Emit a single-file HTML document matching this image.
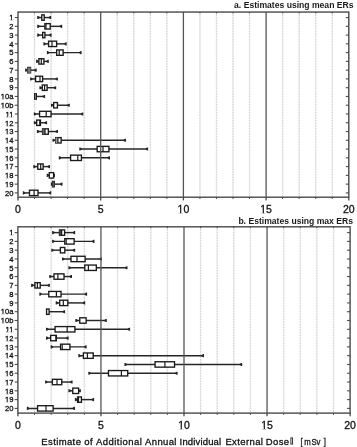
<!DOCTYPE html>
<html><head><meta charset="utf-8"><style>
html,body{margin:0;padding:0;background:#fff;}
body{width:357px;height:447px;overflow:hidden;}
.t{fill:#111;stroke:#111;stroke-width:0.3px;}
svg{display:block;font-family:"Liberation Sans",sans-serif;-webkit-font-smoothing:antialiased;will-change:transform;}
</style></head><body>
<svg width="357" height="447" viewBox="0 0 357 447">
<rect width="357" height="447" fill="#fff"/>
<line x1="34.54" y1="12.05" x2="34.54" y2="197.20" stroke="#f0f0f0" stroke-width="1.6"/>
<line x1="34.54" y1="12.05" x2="34.54" y2="197.20" stroke="#d0d0d0" stroke-width="1" stroke-dasharray="1.3 1.4"/>
<line x1="51.08" y1="12.05" x2="51.08" y2="197.20" stroke="#f0f0f0" stroke-width="1.6"/>
<line x1="51.08" y1="12.05" x2="51.08" y2="197.20" stroke="#d0d0d0" stroke-width="1" stroke-dasharray="1.3 1.4"/>
<line x1="67.62" y1="12.05" x2="67.62" y2="197.20" stroke="#f0f0f0" stroke-width="1.6"/>
<line x1="67.62" y1="12.05" x2="67.62" y2="197.20" stroke="#d0d0d0" stroke-width="1" stroke-dasharray="1.3 1.4"/>
<line x1="84.16" y1="12.05" x2="84.16" y2="197.20" stroke="#f0f0f0" stroke-width="1.6"/>
<line x1="84.16" y1="12.05" x2="84.16" y2="197.20" stroke="#d0d0d0" stroke-width="1" stroke-dasharray="1.3 1.4"/>
<line x1="117.24" y1="12.05" x2="117.24" y2="197.20" stroke="#f0f0f0" stroke-width="1.6"/>
<line x1="117.24" y1="12.05" x2="117.24" y2="197.20" stroke="#d0d0d0" stroke-width="1" stroke-dasharray="1.3 1.4"/>
<line x1="133.78" y1="12.05" x2="133.78" y2="197.20" stroke="#f0f0f0" stroke-width="1.6"/>
<line x1="133.78" y1="12.05" x2="133.78" y2="197.20" stroke="#d0d0d0" stroke-width="1" stroke-dasharray="1.3 1.4"/>
<line x1="150.32" y1="12.05" x2="150.32" y2="197.20" stroke="#f0f0f0" stroke-width="1.6"/>
<line x1="150.32" y1="12.05" x2="150.32" y2="197.20" stroke="#d0d0d0" stroke-width="1" stroke-dasharray="1.3 1.4"/>
<line x1="166.86" y1="12.05" x2="166.86" y2="197.20" stroke="#f0f0f0" stroke-width="1.6"/>
<line x1="166.86" y1="12.05" x2="166.86" y2="197.20" stroke="#d0d0d0" stroke-width="1" stroke-dasharray="1.3 1.4"/>
<line x1="199.94" y1="12.05" x2="199.94" y2="197.20" stroke="#f0f0f0" stroke-width="1.6"/>
<line x1="199.94" y1="12.05" x2="199.94" y2="197.20" stroke="#d0d0d0" stroke-width="1" stroke-dasharray="1.3 1.4"/>
<line x1="216.48" y1="12.05" x2="216.48" y2="197.20" stroke="#f0f0f0" stroke-width="1.6"/>
<line x1="216.48" y1="12.05" x2="216.48" y2="197.20" stroke="#d0d0d0" stroke-width="1" stroke-dasharray="1.3 1.4"/>
<line x1="233.02" y1="12.05" x2="233.02" y2="197.20" stroke="#f0f0f0" stroke-width="1.6"/>
<line x1="233.02" y1="12.05" x2="233.02" y2="197.20" stroke="#d0d0d0" stroke-width="1" stroke-dasharray="1.3 1.4"/>
<line x1="249.56" y1="12.05" x2="249.56" y2="197.20" stroke="#f0f0f0" stroke-width="1.6"/>
<line x1="249.56" y1="12.05" x2="249.56" y2="197.20" stroke="#d0d0d0" stroke-width="1" stroke-dasharray="1.3 1.4"/>
<line x1="282.64" y1="12.05" x2="282.64" y2="197.20" stroke="#f0f0f0" stroke-width="1.6"/>
<line x1="282.64" y1="12.05" x2="282.64" y2="197.20" stroke="#d0d0d0" stroke-width="1" stroke-dasharray="1.3 1.4"/>
<line x1="299.18" y1="12.05" x2="299.18" y2="197.20" stroke="#f0f0f0" stroke-width="1.6"/>
<line x1="299.18" y1="12.05" x2="299.18" y2="197.20" stroke="#d0d0d0" stroke-width="1" stroke-dasharray="1.3 1.4"/>
<line x1="315.72" y1="12.05" x2="315.72" y2="197.20" stroke="#f0f0f0" stroke-width="1.6"/>
<line x1="315.72" y1="12.05" x2="315.72" y2="197.20" stroke="#d0d0d0" stroke-width="1" stroke-dasharray="1.3 1.4"/>
<line x1="332.26" y1="12.05" x2="332.26" y2="197.20" stroke="#f0f0f0" stroke-width="1.6"/>
<line x1="332.26" y1="12.05" x2="332.26" y2="197.20" stroke="#d0d0d0" stroke-width="1" stroke-dasharray="1.3 1.4"/>
<line x1="38.20" y1="17.56" x2="50.20" y2="17.56" stroke="#262626" stroke-width="1.45"/>
<path d="M37.20,16.01 L38.10,16.01 L39.50,16.84 L39.50,18.28 L38.10,19.11 L37.20,19.11 Z" fill="#262626"/>
<path d="M51.20,16.01 L50.30,16.01 L48.90,16.84 L48.90,18.28 L50.30,19.11 L51.20,19.11 Z" fill="#262626"/>
<rect x="41.77" y="14.86" width="2.45" height="5.40" fill="#fff" stroke="#1a1a1a" stroke-width="1.35"/>
<line x1="38.20" y1="26.33" x2="61.20" y2="26.33" stroke="#262626" stroke-width="1.45"/>
<path d="M37.20,24.78 L38.10,24.78 L39.50,25.61 L39.50,27.05 L38.10,27.88 L37.20,27.88 Z" fill="#262626"/>
<path d="M62.20,24.78 L61.30,24.78 L59.90,25.61 L59.90,27.05 L61.30,27.88 L62.20,27.88 Z" fill="#262626"/>
<rect x="44.88" y="23.63" width="5.35" height="5.40" fill="#fff" stroke="#1a1a1a" stroke-width="1.35"/>
<line x1="46.00" y1="23.63" x2="46.00" y2="29.03" stroke="#1a1a1a" stroke-width="1.2"/>
<line x1="38.20" y1="35.09" x2="50.60" y2="35.09" stroke="#262626" stroke-width="1.45"/>
<path d="M37.20,33.54 L38.10,33.54 L39.50,34.37 L39.50,35.81 L38.10,36.64 L37.20,36.64 Z" fill="#262626"/>
<path d="M51.60,33.54 L50.70,33.54 L49.30,34.37 L49.30,35.81 L50.70,36.64 L51.60,36.64 Z" fill="#262626"/>
<rect x="42.67" y="32.39" width="2.25" height="5.40" fill="#fff" stroke="#1a1a1a" stroke-width="1.35"/>
<line x1="44.40" y1="43.86" x2="65.70" y2="43.86" stroke="#262626" stroke-width="1.45"/>
<path d="M43.40,42.31 L44.30,42.31 L45.70,43.14 L45.70,44.58 L44.30,45.41 L43.40,45.41 Z" fill="#262626"/>
<path d="M66.70,42.31 L65.80,42.31 L64.40,43.14 L64.40,44.58 L65.80,45.41 L66.70,45.41 Z" fill="#262626"/>
<rect x="48.57" y="41.16" width="8.05" height="5.40" fill="#fff" stroke="#1a1a1a" stroke-width="1.35"/>
<line x1="52.00" y1="41.16" x2="52.00" y2="46.56" stroke="#1a1a1a" stroke-width="1.2"/>
<line x1="47.90" y1="52.63" x2="80.60" y2="52.63" stroke="#262626" stroke-width="1.45"/>
<path d="M46.90,51.08 L47.80,51.08 L49.20,51.91 L49.20,53.35 L47.80,54.18 L46.90,54.18 Z" fill="#262626"/>
<path d="M81.60,51.08 L80.70,51.08 L79.30,51.91 L79.30,53.35 L80.70,54.18 L81.60,54.18 Z" fill="#262626"/>
<rect x="56.67" y="49.93" width="6.45" height="5.40" fill="#fff" stroke="#1a1a1a" stroke-width="1.35"/>
<line x1="59.20" y1="49.93" x2="59.20" y2="55.33" stroke="#1a1a1a" stroke-width="1.2"/>
<line x1="37.10" y1="61.39" x2="47.80" y2="61.39" stroke="#262626" stroke-width="1.45"/>
<path d="M36.10,59.84 L37.00,59.84 L38.40,60.67 L38.40,62.11 L37.00,62.94 L36.10,62.94 Z" fill="#262626"/>
<path d="M48.80,59.84 L47.90,59.84 L46.50,60.67 L46.50,62.11 L47.90,62.94 L48.80,62.94 Z" fill="#262626"/>
<rect x="38.88" y="58.69" width="5.05" height="5.40" fill="#fff" stroke="#1a1a1a" stroke-width="1.35"/>
<line x1="41.30" y1="58.69" x2="41.30" y2="64.09" stroke="#1a1a1a" stroke-width="1.2"/>
<line x1="26.10" y1="70.16" x2="35.70" y2="70.16" stroke="#262626" stroke-width="1.45"/>
<path d="M25.10,68.61 L26.00,68.61 L27.40,69.44 L27.40,70.88 L26.00,71.71 L25.10,71.71 Z" fill="#262626"/>
<path d="M36.70,68.61 L35.80,68.61 L34.40,69.44 L34.40,70.88 L35.80,71.71 L36.70,71.71 Z" fill="#262626"/>
<rect x="27.68" y="67.46" width="2.85" height="5.40" fill="#fff" stroke="#1a1a1a" stroke-width="1.35"/>
<rect x="27.50" y="67.46" width="3.20" height="5.40" fill="#777"/>
<line x1="31.10" y1="78.93" x2="56.90" y2="78.93" stroke="#262626" stroke-width="1.45"/>
<path d="M30.10,77.38 L31.00,77.38 L32.40,78.21 L32.40,79.65 L31.00,80.48 L30.10,80.48 Z" fill="#262626"/>
<path d="M57.90,77.38 L57.00,77.38 L55.60,78.21 L55.60,79.65 L57.00,80.48 L57.90,80.48 Z" fill="#262626"/>
<rect x="35.57" y="76.23" width="7.05" height="5.40" fill="#fff" stroke="#1a1a1a" stroke-width="1.35"/>
<line x1="40.00" y1="76.23" x2="40.00" y2="81.63" stroke="#1a1a1a" stroke-width="1.2"/>
<line x1="40.40" y1="87.70" x2="55.20" y2="87.70" stroke="#262626" stroke-width="1.45"/>
<path d="M39.40,86.15 L40.30,86.15 L41.70,86.98 L41.70,88.42 L40.30,89.25 L39.40,89.25 Z" fill="#262626"/>
<path d="M56.20,86.15 L55.30,86.15 L53.90,86.98 L53.90,88.42 L55.30,89.25 L56.20,89.25 Z" fill="#262626"/>
<rect x="42.27" y="85.00" width="4.85" height="5.40" fill="#fff" stroke="#1a1a1a" stroke-width="1.35"/>
<line x1="44.60" y1="85.00" x2="44.60" y2="90.40" stroke="#1a1a1a" stroke-width="1.2"/>
<line x1="35.00" y1="96.46" x2="44.10" y2="96.46" stroke="#262626" stroke-width="1.45"/>
<path d="M45.10,94.91 L44.20,94.91 L42.80,95.74 L42.80,97.18 L44.20,98.01 L45.10,98.01 Z" fill="#262626"/>
<rect x="34.67" y="93.76" width="1.65" height="5.40" fill="#fff" stroke="#1a1a1a" stroke-width="1.35"/>
<line x1="52.00" y1="105.23" x2="68.80" y2="105.23" stroke="#262626" stroke-width="1.45"/>
<path d="M51.00,103.68 L51.90,103.68 L53.30,104.51 L53.30,105.95 L51.90,106.78 L51.00,106.78 Z" fill="#262626"/>
<path d="M69.80,103.68 L68.90,103.68 L67.50,104.51 L67.50,105.95 L68.90,106.78 L69.80,106.78 Z" fill="#262626"/>
<rect x="53.67" y="102.53" width="3.75" height="5.40" fill="#fff" stroke="#1a1a1a" stroke-width="1.35"/>
<line x1="34.80" y1="114.00" x2="82.30" y2="114.00" stroke="#262626" stroke-width="1.45"/>
<path d="M33.80,112.45 L34.70,112.45 L36.10,113.28 L36.10,114.72 L34.70,115.55 L33.80,115.55 Z" fill="#262626"/>
<path d="M83.30,112.45 L82.40,112.45 L81.00,113.28 L81.00,114.72 L82.40,115.55 L83.30,115.55 Z" fill="#262626"/>
<rect x="39.57" y="111.30" width="11.45" height="5.40" fill="#fff" stroke="#1a1a1a" stroke-width="1.35"/>
<line x1="46.20" y1="111.30" x2="46.20" y2="116.70" stroke="#1a1a1a" stroke-width="1.2"/>
<line x1="34.80" y1="122.76" x2="46.10" y2="122.76" stroke="#262626" stroke-width="1.45"/>
<path d="M33.80,121.21 L34.70,121.21 L36.10,122.04 L36.10,123.48 L34.70,124.31 L33.80,124.31 Z" fill="#262626"/>
<path d="M47.10,121.21 L46.20,121.21 L44.80,122.04 L44.80,123.48 L46.20,124.31 L47.10,124.31 Z" fill="#262626"/>
<rect x="36.67" y="120.06" width="3.75" height="5.40" fill="#fff" stroke="#1a1a1a" stroke-width="1.35"/>
<line x1="39.80" y1="120.06" x2="39.80" y2="125.46" stroke="#1a1a1a" stroke-width="1.2"/>
<line x1="37.90" y1="131.53" x2="57.00" y2="131.53" stroke="#262626" stroke-width="1.45"/>
<path d="M36.90,129.98 L37.80,129.98 L39.20,130.81 L39.20,132.25 L37.80,133.08 L36.90,133.08 Z" fill="#262626"/>
<path d="M58.00,129.98 L57.10,129.98 L55.70,130.81 L55.70,132.25 L57.10,133.08 L58.00,133.08 Z" fill="#262626"/>
<rect x="42.57" y="128.83" width="5.75" height="5.40" fill="#fff" stroke="#1a1a1a" stroke-width="1.35"/>
<rect x="42.50" y="128.83" width="2.50" height="5.40" fill="#666"/>
<line x1="45.00" y1="128.83" x2="45.00" y2="134.23" stroke="#1a1a1a" stroke-width="1.2"/>
<line x1="53.50" y1="140.30" x2="125.00" y2="140.30" stroke="#262626" stroke-width="1.45"/>
<path d="M52.50,138.75 L53.40,138.75 L54.80,139.58 L54.80,141.02 L53.40,141.85 L52.50,141.85 Z" fill="#262626"/>
<path d="M126.00,138.75 L125.10,138.75 L123.70,139.58 L123.70,141.02 L125.10,141.85 L126.00,141.85 Z" fill="#262626"/>
<rect x="55.67" y="137.60" width="5.45" height="5.40" fill="#fff" stroke="#1a1a1a" stroke-width="1.35"/>
<rect x="55.60" y="137.60" width="2.30" height="5.40" fill="#999"/>
<line x1="57.90" y1="137.60" x2="57.90" y2="143.00" stroke="#1a1a1a" stroke-width="1.2"/>
<line x1="80.30" y1="149.06" x2="147.10" y2="149.06" stroke="#262626" stroke-width="1.45"/>
<path d="M79.30,147.51 L80.20,147.51 L81.60,148.34 L81.60,149.78 L80.20,150.62 L79.30,150.62 Z" fill="#262626"/>
<path d="M148.10,147.51 L147.20,147.51 L145.80,148.34 L145.80,149.78 L147.20,150.62 L148.10,150.62 Z" fill="#262626"/>
<rect x="97.17" y="146.37" width="11.75" height="5.40" fill="#fff" stroke="#1a1a1a" stroke-width="1.35"/>
<line x1="103.00" y1="146.37" x2="103.00" y2="151.76" stroke="#1a1a1a" stroke-width="1.2"/>
<line x1="59.80" y1="157.83" x2="109.00" y2="157.83" stroke="#262626" stroke-width="1.45"/>
<path d="M58.80,156.28 L59.70,156.28 L61.10,157.11 L61.10,158.55 L59.70,159.38 L58.80,159.38 Z" fill="#262626"/>
<path d="M110.00,156.28 L109.10,156.28 L107.70,157.11 L107.70,158.55 L109.10,159.38 L110.00,159.38 Z" fill="#262626"/>
<rect x="70.58" y="155.13" width="10.85" height="5.40" fill="#fff" stroke="#1a1a1a" stroke-width="1.35"/>
<line x1="77.80" y1="155.13" x2="77.80" y2="160.53" stroke="#1a1a1a" stroke-width="1.2"/>
<line x1="34.30" y1="166.60" x2="49.00" y2="166.60" stroke="#262626" stroke-width="1.45"/>
<path d="M33.30,165.05 L34.20,165.05 L35.60,165.88 L35.60,167.32 L34.20,168.15 L33.30,168.15 Z" fill="#262626"/>
<path d="M50.00,165.05 L49.10,165.05 L47.70,165.88 L47.70,167.32 L49.10,168.15 L50.00,168.15 Z" fill="#262626"/>
<rect x="37.77" y="163.90" width="5.35" height="5.40" fill="#fff" stroke="#1a1a1a" stroke-width="1.35"/>
<line x1="40.70" y1="163.90" x2="40.70" y2="169.30" stroke="#1a1a1a" stroke-width="1.2"/>
<line x1="47.70" y1="175.37" x2="54.00" y2="175.37" stroke="#262626" stroke-width="1.45"/>
<path d="M46.70,173.82 L47.60,173.82 L49.00,174.65 L49.00,176.09 L47.60,176.92 L46.70,176.92 Z" fill="#262626"/>
<path d="M55.00,173.82 L54.10,173.82 L52.70,174.65 L52.70,176.09 L54.10,176.92 L55.00,176.92 Z" fill="#262626"/>
<rect x="49.27" y="172.67" width="4.35" height="5.40" fill="#fff" stroke="#1a1a1a" stroke-width="1.35"/>
<line x1="51.90" y1="184.13" x2="61.50" y2="184.13" stroke="#262626" stroke-width="1.45"/>
<path d="M50.90,182.58 L51.80,182.58 L53.20,183.41 L53.20,184.85 L51.80,185.68 L50.90,185.68 Z" fill="#262626"/>
<path d="M62.50,182.58 L61.60,182.58 L60.20,183.41 L60.20,184.85 L61.60,185.68 L62.50,185.68 Z" fill="#262626"/>
<rect x="52.57" y="181.43" width="1.75" height="5.40" fill="#fff" stroke="#1a1a1a" stroke-width="1.35"/>
<rect x="52.50" y="181.43" width="1.90" height="5.40" fill="#555"/>
<line x1="23.80" y1="192.90" x2="50.20" y2="192.90" stroke="#262626" stroke-width="1.45"/>
<path d="M22.80,191.35 L23.70,191.35 L25.10,192.18 L25.10,193.62 L23.70,194.45 L22.80,194.45 Z" fill="#262626"/>
<path d="M51.20,191.35 L50.30,191.35 L48.90,192.18 L48.90,193.62 L50.30,194.45 L51.20,194.45 Z" fill="#262626"/>
<rect x="29.48" y="190.20" width="8.55" height="5.40" fill="#fff" stroke="#1a1a1a" stroke-width="1.35"/>
<line x1="34.10" y1="190.20" x2="34.10" y2="195.60" stroke="#1a1a1a" stroke-width="1.2"/>
<line x1="100.70" y1="12.05" x2="100.70" y2="197.20" stroke="#555" stroke-width="1.3"/>
<line x1="183.40" y1="12.05" x2="183.40" y2="197.20" stroke="#555" stroke-width="1.3"/>
<line x1="266.10" y1="12.05" x2="266.10" y2="197.20" stroke="#555" stroke-width="1.3"/>
<rect x="18.00" y="12.05" width="330.80" height="185.15" fill="none" stroke="#4a4a4a" stroke-width="1.4"/>
<line x1="14.80" y1="17.56" x2="18.00" y2="17.56" stroke="#4a4a4a" stroke-width="1.1"/>
<line x1="345.80" y1="17.56" x2="348.80" y2="17.56" stroke="#4a4a4a" stroke-width="1.1"/>
<text x="13.4" y="20" text-anchor="end" font-size="7.6" class="t">1</text>
<rect x="9.17" y="19.08" width="1.71" height="1.52" fill="#fff"/>
<rect x="11.96" y="19.08" width="1.44" height="1.52" fill="#fff"/>
<line x1="14.80" y1="26.33" x2="18.00" y2="26.33" stroke="#4a4a4a" stroke-width="1.1"/>
<line x1="345.80" y1="26.33" x2="348.80" y2="26.33" stroke="#4a4a4a" stroke-width="1.1"/>
<text x="13.4" y="29" text-anchor="end" font-size="7.6" class="t">2</text>
<line x1="14.80" y1="35.09" x2="18.00" y2="35.09" stroke="#4a4a4a" stroke-width="1.1"/>
<line x1="345.80" y1="35.09" x2="348.80" y2="35.09" stroke="#4a4a4a" stroke-width="1.1"/>
<text x="13.4" y="38" text-anchor="end" font-size="7.6" class="t">3</text>
<line x1="14.80" y1="43.86" x2="18.00" y2="43.86" stroke="#4a4a4a" stroke-width="1.1"/>
<line x1="345.80" y1="43.86" x2="348.80" y2="43.86" stroke="#4a4a4a" stroke-width="1.1"/>
<text x="13.4" y="47" text-anchor="end" font-size="7.6" class="t">4</text>
<line x1="14.80" y1="52.63" x2="18.00" y2="52.63" stroke="#4a4a4a" stroke-width="1.1"/>
<line x1="345.80" y1="52.63" x2="348.80" y2="52.63" stroke="#4a4a4a" stroke-width="1.1"/>
<text x="13.4" y="55" text-anchor="end" font-size="7.6" class="t">5</text>
<line x1="14.80" y1="61.39" x2="18.00" y2="61.39" stroke="#4a4a4a" stroke-width="1.1"/>
<line x1="345.80" y1="61.39" x2="348.80" y2="61.39" stroke="#4a4a4a" stroke-width="1.1"/>
<text x="13.4" y="64" text-anchor="end" font-size="7.6" class="t">6</text>
<line x1="14.80" y1="70.16" x2="18.00" y2="70.16" stroke="#4a4a4a" stroke-width="1.1"/>
<line x1="345.80" y1="70.16" x2="348.80" y2="70.16" stroke="#4a4a4a" stroke-width="1.1"/>
<text x="13.4" y="73" text-anchor="end" font-size="7.6" class="t">7</text>
<line x1="14.80" y1="78.93" x2="18.00" y2="78.93" stroke="#4a4a4a" stroke-width="1.1"/>
<line x1="345.80" y1="78.93" x2="348.80" y2="78.93" stroke="#4a4a4a" stroke-width="1.1"/>
<text x="13.4" y="82" text-anchor="end" font-size="7.6" class="t">8</text>
<line x1="14.80" y1="87.70" x2="18.00" y2="87.70" stroke="#4a4a4a" stroke-width="1.1"/>
<line x1="345.80" y1="87.70" x2="348.80" y2="87.70" stroke="#4a4a4a" stroke-width="1.1"/>
<text x="13.4" y="90" text-anchor="end" font-size="7.6" class="t">9</text>
<line x1="14.80" y1="96.46" x2="18.00" y2="96.46" stroke="#4a4a4a" stroke-width="1.1"/>
<line x1="345.80" y1="96.46" x2="348.80" y2="96.46" stroke="#4a4a4a" stroke-width="1.1"/>
<text x="13.4" y="99" text-anchor="end" font-size="7.6" class="t">10a</text>
<rect x="0.72" y="98.08" width="1.71" height="1.52" fill="#fff"/>
<rect x="3.50" y="98.08" width="1.44" height="1.52" fill="#fff"/>
<line x1="14.80" y1="105.23" x2="18.00" y2="105.23" stroke="#4a4a4a" stroke-width="1.1"/>
<line x1="345.80" y1="105.23" x2="348.80" y2="105.23" stroke="#4a4a4a" stroke-width="1.1"/>
<text x="13.4" y="108" text-anchor="end" font-size="7.6" class="t">10b</text>
<rect x="0.72" y="107.08" width="1.71" height="1.52" fill="#fff"/>
<rect x="3.50" y="107.08" width="1.44" height="1.52" fill="#fff"/>
<line x1="14.80" y1="114.00" x2="18.00" y2="114.00" stroke="#4a4a4a" stroke-width="1.1"/>
<line x1="345.80" y1="114.00" x2="348.80" y2="114.00" stroke="#4a4a4a" stroke-width="1.1"/>
<text x="13.4" y="117" text-anchor="end" font-size="7.6" class="t">11</text>
<rect x="4.95" y="116.08" width="1.71" height="1.52" fill="#fff"/>
<rect x="7.73" y="116.08" width="1.44" height="1.52" fill="#fff"/>
<rect x="9.17" y="116.08" width="1.71" height="1.52" fill="#fff"/>
<rect x="11.96" y="116.08" width="1.44" height="1.52" fill="#fff"/>
<line x1="14.80" y1="122.76" x2="18.00" y2="122.76" stroke="#4a4a4a" stroke-width="1.1"/>
<line x1="345.80" y1="122.76" x2="348.80" y2="122.76" stroke="#4a4a4a" stroke-width="1.1"/>
<text x="13.4" y="126" text-anchor="end" font-size="7.6" class="t">12</text>
<rect x="4.95" y="125.08" width="1.71" height="1.52" fill="#fff"/>
<rect x="7.73" y="125.08" width="1.44" height="1.52" fill="#fff"/>
<line x1="14.80" y1="131.53" x2="18.00" y2="131.53" stroke="#4a4a4a" stroke-width="1.1"/>
<line x1="345.80" y1="131.53" x2="348.80" y2="131.53" stroke="#4a4a4a" stroke-width="1.1"/>
<text x="13.4" y="134" text-anchor="end" font-size="7.6" class="t">13</text>
<rect x="4.95" y="133.08" width="1.71" height="1.52" fill="#fff"/>
<rect x="7.73" y="133.08" width="1.44" height="1.52" fill="#fff"/>
<line x1="14.80" y1="140.30" x2="18.00" y2="140.30" stroke="#4a4a4a" stroke-width="1.1"/>
<line x1="345.80" y1="140.30" x2="348.80" y2="140.30" stroke="#4a4a4a" stroke-width="1.1"/>
<text x="13.4" y="143" text-anchor="end" font-size="7.6" class="t">14</text>
<rect x="4.95" y="142.08" width="1.71" height="1.52" fill="#fff"/>
<rect x="7.73" y="142.08" width="1.44" height="1.52" fill="#fff"/>
<line x1="14.80" y1="149.06" x2="18.00" y2="149.06" stroke="#4a4a4a" stroke-width="1.1"/>
<line x1="345.80" y1="149.06" x2="348.80" y2="149.06" stroke="#4a4a4a" stroke-width="1.1"/>
<text x="13.4" y="152" text-anchor="end" font-size="7.6" class="t">15</text>
<rect x="4.95" y="151.08" width="1.71" height="1.52" fill="#fff"/>
<rect x="7.73" y="151.08" width="1.44" height="1.52" fill="#fff"/>
<line x1="14.80" y1="157.83" x2="18.00" y2="157.83" stroke="#4a4a4a" stroke-width="1.1"/>
<line x1="345.80" y1="157.83" x2="348.80" y2="157.83" stroke="#4a4a4a" stroke-width="1.1"/>
<text x="13.4" y="161" text-anchor="end" font-size="7.6" class="t">16</text>
<rect x="4.95" y="160.08" width="1.71" height="1.52" fill="#fff"/>
<rect x="7.73" y="160.08" width="1.44" height="1.52" fill="#fff"/>
<line x1="14.80" y1="166.60" x2="18.00" y2="166.60" stroke="#4a4a4a" stroke-width="1.1"/>
<line x1="345.80" y1="166.60" x2="348.80" y2="166.60" stroke="#4a4a4a" stroke-width="1.1"/>
<text x="13.4" y="169" text-anchor="end" font-size="7.6" class="t">17</text>
<rect x="4.95" y="168.08" width="1.71" height="1.52" fill="#fff"/>
<rect x="7.73" y="168.08" width="1.44" height="1.52" fill="#fff"/>
<line x1="14.80" y1="175.37" x2="18.00" y2="175.37" stroke="#4a4a4a" stroke-width="1.1"/>
<line x1="345.80" y1="175.37" x2="348.80" y2="175.37" stroke="#4a4a4a" stroke-width="1.1"/>
<text x="13.4" y="178" text-anchor="end" font-size="7.6" class="t">18</text>
<rect x="4.95" y="177.08" width="1.71" height="1.52" fill="#fff"/>
<rect x="7.73" y="177.08" width="1.44" height="1.52" fill="#fff"/>
<line x1="14.80" y1="184.13" x2="18.00" y2="184.13" stroke="#4a4a4a" stroke-width="1.1"/>
<line x1="345.80" y1="184.13" x2="348.80" y2="184.13" stroke="#4a4a4a" stroke-width="1.1"/>
<text x="13.4" y="187" text-anchor="end" font-size="7.6" class="t">19</text>
<rect x="4.95" y="186.08" width="1.71" height="1.52" fill="#fff"/>
<rect x="7.73" y="186.08" width="1.44" height="1.52" fill="#fff"/>
<line x1="14.80" y1="192.90" x2="18.00" y2="192.90" stroke="#4a4a4a" stroke-width="1.1"/>
<line x1="345.80" y1="192.90" x2="348.80" y2="192.90" stroke="#4a4a4a" stroke-width="1.1"/>
<text x="13.4" y="196" text-anchor="end" font-size="7.6" class="t">20</text>
<line x1="18.00" y1="197.20" x2="18.00" y2="200.40" stroke="#4a4a4a" stroke-width="1.3"/>
<line x1="34.54" y1="197.20" x2="34.54" y2="199.00" stroke="#4a4a4a" stroke-width="1"/>
<line x1="34.54" y1="12.05" x2="34.54" y2="13.45" stroke="#4a4a4a" stroke-width="1"/>
<line x1="51.08" y1="197.20" x2="51.08" y2="199.00" stroke="#4a4a4a" stroke-width="1"/>
<line x1="51.08" y1="12.05" x2="51.08" y2="13.45" stroke="#4a4a4a" stroke-width="1"/>
<line x1="67.62" y1="197.20" x2="67.62" y2="199.00" stroke="#4a4a4a" stroke-width="1"/>
<line x1="67.62" y1="12.05" x2="67.62" y2="13.45" stroke="#4a4a4a" stroke-width="1"/>
<line x1="84.16" y1="197.20" x2="84.16" y2="199.00" stroke="#4a4a4a" stroke-width="1"/>
<line x1="84.16" y1="12.05" x2="84.16" y2="13.45" stroke="#4a4a4a" stroke-width="1"/>
<line x1="100.70" y1="197.20" x2="100.70" y2="200.40" stroke="#4a4a4a" stroke-width="1.3"/>
<line x1="117.24" y1="197.20" x2="117.24" y2="199.00" stroke="#4a4a4a" stroke-width="1"/>
<line x1="117.24" y1="12.05" x2="117.24" y2="13.45" stroke="#4a4a4a" stroke-width="1"/>
<line x1="133.78" y1="197.20" x2="133.78" y2="199.00" stroke="#4a4a4a" stroke-width="1"/>
<line x1="133.78" y1="12.05" x2="133.78" y2="13.45" stroke="#4a4a4a" stroke-width="1"/>
<line x1="150.32" y1="197.20" x2="150.32" y2="199.00" stroke="#4a4a4a" stroke-width="1"/>
<line x1="150.32" y1="12.05" x2="150.32" y2="13.45" stroke="#4a4a4a" stroke-width="1"/>
<line x1="166.86" y1="197.20" x2="166.86" y2="199.00" stroke="#4a4a4a" stroke-width="1"/>
<line x1="166.86" y1="12.05" x2="166.86" y2="13.45" stroke="#4a4a4a" stroke-width="1"/>
<line x1="183.40" y1="197.20" x2="183.40" y2="200.40" stroke="#4a4a4a" stroke-width="1.3"/>
<line x1="199.94" y1="197.20" x2="199.94" y2="199.00" stroke="#4a4a4a" stroke-width="1"/>
<line x1="199.94" y1="12.05" x2="199.94" y2="13.45" stroke="#4a4a4a" stroke-width="1"/>
<line x1="216.48" y1="197.20" x2="216.48" y2="199.00" stroke="#4a4a4a" stroke-width="1"/>
<line x1="216.48" y1="12.05" x2="216.48" y2="13.45" stroke="#4a4a4a" stroke-width="1"/>
<line x1="233.02" y1="197.20" x2="233.02" y2="199.00" stroke="#4a4a4a" stroke-width="1"/>
<line x1="233.02" y1="12.05" x2="233.02" y2="13.45" stroke="#4a4a4a" stroke-width="1"/>
<line x1="249.56" y1="197.20" x2="249.56" y2="199.00" stroke="#4a4a4a" stroke-width="1"/>
<line x1="249.56" y1="12.05" x2="249.56" y2="13.45" stroke="#4a4a4a" stroke-width="1"/>
<line x1="266.10" y1="197.20" x2="266.10" y2="200.40" stroke="#4a4a4a" stroke-width="1.3"/>
<line x1="282.64" y1="197.20" x2="282.64" y2="199.00" stroke="#4a4a4a" stroke-width="1"/>
<line x1="282.64" y1="12.05" x2="282.64" y2="13.45" stroke="#4a4a4a" stroke-width="1"/>
<line x1="299.18" y1="197.20" x2="299.18" y2="199.00" stroke="#4a4a4a" stroke-width="1"/>
<line x1="299.18" y1="12.05" x2="299.18" y2="13.45" stroke="#4a4a4a" stroke-width="1"/>
<line x1="315.72" y1="197.20" x2="315.72" y2="199.00" stroke="#4a4a4a" stroke-width="1"/>
<line x1="315.72" y1="12.05" x2="315.72" y2="13.45" stroke="#4a4a4a" stroke-width="1"/>
<line x1="332.26" y1="197.20" x2="332.26" y2="199.00" stroke="#4a4a4a" stroke-width="1"/>
<line x1="332.26" y1="12.05" x2="332.26" y2="13.45" stroke="#4a4a4a" stroke-width="1"/>
<line x1="348.80" y1="197.20" x2="348.80" y2="200.40" stroke="#4a4a4a" stroke-width="1.3"/>
<text x="18.00" y="212.80" text-anchor="middle" font-size="10.5" class="t">0</text>
<text x="100.70" y="212.80" text-anchor="middle" font-size="10.5" class="t">5</text>
<text x="183.40" y="212.80" text-anchor="middle" font-size="10.5" class="t">10</text>
<rect x="177.56" y="211.67" width="2.44" height="1.73" fill="#fff"/>
<rect x="181.33" y="211.67" width="2.07" height="1.73" fill="#fff"/>
<text x="266.10" y="212.80" text-anchor="middle" font-size="10.5" class="t">15</text>
<rect x="260.26" y="211.67" width="2.44" height="1.73" fill="#fff"/>
<rect x="264.03" y="211.67" width="2.07" height="1.73" fill="#fff"/>
<text x="348.80" y="212.80" text-anchor="middle" font-size="10.5" class="t">20</text>
<text x="353.5" y="8.0" text-anchor="end" font-size="8.6" font-weight="bold" fill="#1a1a1a">a. Estimates using mean ERs</text>
<line x1="34.51" y1="226.80" x2="34.51" y2="413.10" stroke="#f0f0f0" stroke-width="1.6"/>
<line x1="34.51" y1="226.80" x2="34.51" y2="413.10" stroke="#d0d0d0" stroke-width="1" stroke-dasharray="1.3 1.4"/>
<line x1="51.12" y1="226.80" x2="51.12" y2="413.10" stroke="#f0f0f0" stroke-width="1.6"/>
<line x1="51.12" y1="226.80" x2="51.12" y2="413.10" stroke="#d0d0d0" stroke-width="1" stroke-dasharray="1.3 1.4"/>
<line x1="67.73" y1="226.80" x2="67.73" y2="413.10" stroke="#f0f0f0" stroke-width="1.6"/>
<line x1="67.73" y1="226.80" x2="67.73" y2="413.10" stroke="#d0d0d0" stroke-width="1" stroke-dasharray="1.3 1.4"/>
<line x1="84.34" y1="226.80" x2="84.34" y2="413.10" stroke="#f0f0f0" stroke-width="1.6"/>
<line x1="84.34" y1="226.80" x2="84.34" y2="413.10" stroke="#d0d0d0" stroke-width="1" stroke-dasharray="1.3 1.4"/>
<line x1="117.56" y1="226.80" x2="117.56" y2="413.10" stroke="#f0f0f0" stroke-width="1.6"/>
<line x1="117.56" y1="226.80" x2="117.56" y2="413.10" stroke="#d0d0d0" stroke-width="1" stroke-dasharray="1.3 1.4"/>
<line x1="134.17" y1="226.80" x2="134.17" y2="413.10" stroke="#f0f0f0" stroke-width="1.6"/>
<line x1="134.17" y1="226.80" x2="134.17" y2="413.10" stroke="#d0d0d0" stroke-width="1" stroke-dasharray="1.3 1.4"/>
<line x1="150.78" y1="226.80" x2="150.78" y2="413.10" stroke="#f0f0f0" stroke-width="1.6"/>
<line x1="150.78" y1="226.80" x2="150.78" y2="413.10" stroke="#d0d0d0" stroke-width="1" stroke-dasharray="1.3 1.4"/>
<line x1="167.39" y1="226.80" x2="167.39" y2="413.10" stroke="#f0f0f0" stroke-width="1.6"/>
<line x1="167.39" y1="226.80" x2="167.39" y2="413.10" stroke="#d0d0d0" stroke-width="1" stroke-dasharray="1.3 1.4"/>
<line x1="200.61" y1="226.80" x2="200.61" y2="413.10" stroke="#f0f0f0" stroke-width="1.6"/>
<line x1="200.61" y1="226.80" x2="200.61" y2="413.10" stroke="#d0d0d0" stroke-width="1" stroke-dasharray="1.3 1.4"/>
<line x1="217.22" y1="226.80" x2="217.22" y2="413.10" stroke="#f0f0f0" stroke-width="1.6"/>
<line x1="217.22" y1="226.80" x2="217.22" y2="413.10" stroke="#d0d0d0" stroke-width="1" stroke-dasharray="1.3 1.4"/>
<line x1="233.83" y1="226.80" x2="233.83" y2="413.10" stroke="#f0f0f0" stroke-width="1.6"/>
<line x1="233.83" y1="226.80" x2="233.83" y2="413.10" stroke="#d0d0d0" stroke-width="1" stroke-dasharray="1.3 1.4"/>
<line x1="250.44" y1="226.80" x2="250.44" y2="413.10" stroke="#f0f0f0" stroke-width="1.6"/>
<line x1="250.44" y1="226.80" x2="250.44" y2="413.10" stroke="#d0d0d0" stroke-width="1" stroke-dasharray="1.3 1.4"/>
<line x1="283.66" y1="226.80" x2="283.66" y2="413.10" stroke="#f0f0f0" stroke-width="1.6"/>
<line x1="283.66" y1="226.80" x2="283.66" y2="413.10" stroke="#d0d0d0" stroke-width="1" stroke-dasharray="1.3 1.4"/>
<line x1="300.27" y1="226.80" x2="300.27" y2="413.10" stroke="#f0f0f0" stroke-width="1.6"/>
<line x1="300.27" y1="226.80" x2="300.27" y2="413.10" stroke="#d0d0d0" stroke-width="1" stroke-dasharray="1.3 1.4"/>
<line x1="316.88" y1="226.80" x2="316.88" y2="413.10" stroke="#f0f0f0" stroke-width="1.6"/>
<line x1="316.88" y1="226.80" x2="316.88" y2="413.10" stroke="#d0d0d0" stroke-width="1" stroke-dasharray="1.3 1.4"/>
<line x1="333.49" y1="226.80" x2="333.49" y2="413.10" stroke="#f0f0f0" stroke-width="1.6"/>
<line x1="333.49" y1="226.80" x2="333.49" y2="413.10" stroke="#d0d0d0" stroke-width="1" stroke-dasharray="1.3 1.4"/>
<line x1="53.10" y1="232.60" x2="74.20" y2="232.60" stroke="#262626" stroke-width="1.45"/>
<path d="M52.10,231.05 L53.00,231.05 L54.40,231.88 L54.40,233.32 L53.00,234.15 L52.10,234.15 Z" fill="#262626"/>
<path d="M75.20,231.05 L74.30,231.05 L72.90,231.88 L72.90,233.32 L74.30,234.15 L75.20,234.15 Z" fill="#262626"/>
<rect x="59.47" y="229.90" width="5.15" height="5.40" fill="#fff" stroke="#1a1a1a" stroke-width="1.35"/>
<rect x="59.30" y="229.90" width="2.30" height="5.40" fill="#444"/>
<line x1="61.60" y1="229.90" x2="61.60" y2="235.30" stroke="#1a1a1a" stroke-width="1.2"/>
<line x1="53.10" y1="241.39" x2="93.50" y2="241.39" stroke="#262626" stroke-width="1.45"/>
<path d="M52.10,239.84 L53.00,239.84 L54.40,240.67 L54.40,242.11 L53.00,242.94 L52.10,242.94 Z" fill="#262626"/>
<path d="M94.50,239.84 L93.60,239.84 L92.20,240.67 L92.20,242.11 L93.60,242.94 L94.50,242.94 Z" fill="#262626"/>
<rect x="64.77" y="238.69" width="9.35" height="5.40" fill="#fff" stroke="#1a1a1a" stroke-width="1.35"/>
<line x1="66.20" y1="238.69" x2="66.20" y2="244.09" stroke="#1a1a1a" stroke-width="1.2"/>
<line x1="52.30" y1="250.18" x2="74.20" y2="250.18" stroke="#262626" stroke-width="1.45"/>
<path d="M51.30,248.63 L52.20,248.63 L53.60,249.46 L53.60,250.90 L52.20,251.73 L51.30,251.73 Z" fill="#262626"/>
<path d="M75.20,248.63 L74.30,248.63 L72.90,249.46 L72.90,250.90 L74.30,251.73 L75.20,251.73 Z" fill="#262626"/>
<rect x="60.38" y="247.48" width="4.45" height="5.40" fill="#fff" stroke="#1a1a1a" stroke-width="1.35"/>
<line x1="63.00" y1="258.97" x2="100.90" y2="258.97" stroke="#262626" stroke-width="1.45"/>
<path d="M62.00,257.42 L62.90,257.42 L64.30,258.25 L64.30,259.69 L62.90,260.52 L62.00,260.52 Z" fill="#262626"/>
<path d="M101.90,257.42 L101.00,257.42 L99.60,258.25 L99.60,259.69 L101.00,260.52 L101.90,260.52 Z" fill="#262626"/>
<rect x="70.97" y="256.27" width="14.15" height="5.40" fill="#fff" stroke="#1a1a1a" stroke-width="1.35"/>
<line x1="77.00" y1="256.27" x2="77.00" y2="261.67" stroke="#1a1a1a" stroke-width="1.2"/>
<line x1="69.40" y1="267.76" x2="126.50" y2="267.76" stroke="#262626" stroke-width="1.45"/>
<path d="M68.40,266.21 L69.30,266.21 L70.70,267.04 L70.70,268.48 L69.30,269.31 L68.40,269.31 Z" fill="#262626"/>
<path d="M127.50,266.21 L126.60,266.21 L125.20,267.04 L125.20,268.48 L126.60,269.31 L127.50,269.31 Z" fill="#262626"/>
<rect x="84.77" y="265.06" width="11.55" height="5.40" fill="#fff" stroke="#1a1a1a" stroke-width="1.35"/>
<line x1="88.40" y1="265.06" x2="88.40" y2="270.46" stroke="#1a1a1a" stroke-width="1.2"/>
<line x1="50.20" y1="276.55" x2="71.00" y2="276.55" stroke="#262626" stroke-width="1.45"/>
<path d="M49.20,275.00 L50.10,275.00 L51.50,275.83 L51.50,277.27 L50.10,278.10 L49.20,278.10 Z" fill="#262626"/>
<path d="M72.00,275.00 L71.10,275.00 L69.70,275.83 L69.70,277.27 L71.10,278.10 L72.00,278.10 Z" fill="#262626"/>
<rect x="53.97" y="273.85" width="10.05" height="5.40" fill="#fff" stroke="#1a1a1a" stroke-width="1.35"/>
<line x1="57.90" y1="273.85" x2="57.90" y2="279.25" stroke="#1a1a1a" stroke-width="1.2"/>
<line x1="32.10" y1="285.34" x2="48.90" y2="285.34" stroke="#262626" stroke-width="1.45"/>
<path d="M31.10,283.79 L32.00,283.79 L33.40,284.62 L33.40,286.06 L32.00,286.89 L31.10,286.89 Z" fill="#262626"/>
<path d="M49.90,283.79 L49.00,283.79 L47.60,284.62 L47.60,286.06 L49.00,286.89 L49.90,286.89 Z" fill="#262626"/>
<rect x="34.88" y="282.64" width="5.35" height="5.40" fill="#fff" stroke="#1a1a1a" stroke-width="1.35"/>
<line x1="37.40" y1="282.64" x2="37.40" y2="288.04" stroke="#1a1a1a" stroke-width="1.2"/>
<line x1="40.30" y1="294.13" x2="86.10" y2="294.13" stroke="#262626" stroke-width="1.45"/>
<path d="M39.30,292.58 L40.20,292.58 L41.60,293.41 L41.60,294.85 L40.20,295.68 L39.30,295.68 Z" fill="#262626"/>
<path d="M87.10,292.58 L86.20,292.58 L84.80,293.41 L84.80,294.85 L86.20,295.68 L87.10,295.68 Z" fill="#262626"/>
<rect x="48.77" y="291.43" width="12.25" height="5.40" fill="#fff" stroke="#1a1a1a" stroke-width="1.35"/>
<line x1="56.40" y1="291.43" x2="56.40" y2="296.83" stroke="#1a1a1a" stroke-width="1.2"/>
<line x1="56.70" y1="302.92" x2="84.20" y2="302.92" stroke="#262626" stroke-width="1.45"/>
<path d="M55.70,301.37 L56.60,301.37 L58.00,302.20 L58.00,303.64 L56.60,304.47 L55.70,304.47 Z" fill="#262626"/>
<path d="M85.20,301.37 L84.30,301.37 L82.90,302.20 L82.90,303.64 L84.30,304.47 L85.20,304.47 Z" fill="#262626"/>
<rect x="59.67" y="300.22" width="8.15" height="5.40" fill="#fff" stroke="#1a1a1a" stroke-width="1.35"/>
<line x1="63.30" y1="300.22" x2="63.30" y2="305.62" stroke="#1a1a1a" stroke-width="1.2"/>
<line x1="46.90" y1="311.71" x2="64.10" y2="311.71" stroke="#262626" stroke-width="1.45"/>
<path d="M65.10,310.16 L64.20,310.16 L62.80,310.99 L62.80,312.43 L64.20,313.26 L65.10,313.26 Z" fill="#262626"/>
<rect x="46.57" y="309.01" width="2.55" height="5.40" fill="#fff" stroke="#1a1a1a" stroke-width="1.35"/>
<line x1="76.30" y1="320.50" x2="105.80" y2="320.50" stroke="#262626" stroke-width="1.45"/>
<path d="M75.30,318.95 L76.20,318.95 L77.60,319.78 L77.60,321.22 L76.20,322.05 L75.30,322.05 Z" fill="#262626"/>
<path d="M106.80,318.95 L105.90,318.95 L104.50,319.78 L104.50,321.22 L105.90,322.05 L106.80,322.05 Z" fill="#262626"/>
<rect x="79.77" y="317.80" width="6.35" height="5.40" fill="#fff" stroke="#1a1a1a" stroke-width="1.35"/>
<line x1="47.00" y1="329.29" x2="129.10" y2="329.29" stroke="#262626" stroke-width="1.45"/>
<path d="M46.00,327.74 L46.90,327.74 L48.30,328.57 L48.30,330.01 L46.90,330.84 L46.00,330.84 Z" fill="#262626"/>
<path d="M130.10,327.74 L129.20,327.74 L127.80,328.57 L127.80,330.01 L129.20,330.84 L130.10,330.84 Z" fill="#262626"/>
<rect x="55.07" y="326.59" width="19.85" height="5.40" fill="#fff" stroke="#1a1a1a" stroke-width="1.35"/>
<line x1="67.20" y1="326.59" x2="67.20" y2="331.99" stroke="#1a1a1a" stroke-width="1.2"/>
<line x1="47.00" y1="338.08" x2="67.60" y2="338.08" stroke="#262626" stroke-width="1.45"/>
<path d="M46.00,336.53 L46.90,336.53 L48.30,337.36 L48.30,338.80 L46.90,339.63 L46.00,339.63 Z" fill="#262626"/>
<path d="M68.60,336.53 L67.70,336.53 L66.30,337.36 L66.30,338.80 L67.70,339.63 L68.60,339.63 Z" fill="#262626"/>
<rect x="50.67" y="335.38" width="5.65" height="5.40" fill="#fff" stroke="#1a1a1a" stroke-width="1.35"/>
<line x1="55.90" y1="335.38" x2="55.90" y2="340.78" stroke="#1a1a1a" stroke-width="1.2"/>
<line x1="51.70" y1="346.87" x2="85.60" y2="346.87" stroke="#262626" stroke-width="1.45"/>
<path d="M50.70,345.32 L51.60,345.32 L53.00,346.15 L53.00,347.59 L51.60,348.42 L50.70,348.42 Z" fill="#262626"/>
<path d="M86.60,345.32 L85.70,345.32 L84.30,346.15 L84.30,347.59 L85.70,348.42 L86.60,348.42 Z" fill="#262626"/>
<rect x="60.57" y="344.17" width="9.35" height="5.40" fill="#fff" stroke="#1a1a1a" stroke-width="1.35"/>
<line x1="62.20" y1="344.17" x2="62.20" y2="349.57" stroke="#1a1a1a" stroke-width="1.2"/>
<line x1="79.30" y1="355.66" x2="203.00" y2="355.66" stroke="#262626" stroke-width="1.45"/>
<path d="M78.30,354.11 L79.20,354.11 L80.60,354.94 L80.60,356.38 L79.20,357.21 L78.30,357.21 Z" fill="#262626"/>
<path d="M204.00,354.11 L203.10,354.11 L201.70,354.94 L201.70,356.38 L203.10,357.21 L204.00,357.21 Z" fill="#262626"/>
<rect x="83.38" y="352.96" width="9.85" height="5.40" fill="#fff" stroke="#1a1a1a" stroke-width="1.35"/>
<line x1="87.40" y1="352.96" x2="87.40" y2="358.36" stroke="#1a1a1a" stroke-width="1.2"/>
<line x1="125.40" y1="364.45" x2="241.20" y2="364.45" stroke="#262626" stroke-width="1.45"/>
<path d="M124.40,362.90 L125.30,362.90 L126.70,363.73 L126.70,365.17 L125.30,366.00 L124.40,366.00 Z" fill="#262626"/>
<path d="M242.20,362.90 L241.30,362.90 L239.90,363.73 L239.90,365.17 L241.30,366.00 L242.20,366.00 Z" fill="#262626"/>
<rect x="155.08" y="361.75" width="19.45" height="5.40" fill="#fff" stroke="#1a1a1a" stroke-width="1.35"/>
<line x1="164.90" y1="361.75" x2="164.90" y2="367.15" stroke="#1a1a1a" stroke-width="1.2"/>
<line x1="89.30" y1="373.24" x2="176.60" y2="373.24" stroke="#262626" stroke-width="1.45"/>
<path d="M88.30,371.69 L89.20,371.69 L90.60,372.52 L90.60,373.96 L89.20,374.79 L88.30,374.79 Z" fill="#262626"/>
<path d="M177.60,371.69 L176.70,371.69 L175.30,372.52 L175.30,373.96 L176.70,374.79 L177.60,374.79 Z" fill="#262626"/>
<rect x="108.47" y="370.54" width="19.25" height="5.40" fill="#fff" stroke="#1a1a1a" stroke-width="1.35"/>
<line x1="121.40" y1="370.54" x2="121.40" y2="375.94" stroke="#1a1a1a" stroke-width="1.2"/>
<line x1="46.10" y1="382.03" x2="71.60" y2="382.03" stroke="#262626" stroke-width="1.45"/>
<path d="M45.10,380.48 L46.00,380.48 L47.40,381.31 L47.40,382.75 L46.00,383.58 L45.10,383.58 Z" fill="#262626"/>
<path d="M72.60,380.48 L71.70,380.48 L70.30,381.31 L70.30,382.75 L71.70,383.58 L72.60,383.58 Z" fill="#262626"/>
<rect x="52.38" y="379.33" width="9.35" height="5.40" fill="#fff" stroke="#1a1a1a" stroke-width="1.35"/>
<line x1="57.00" y1="379.33" x2="57.00" y2="384.73" stroke="#1a1a1a" stroke-width="1.2"/>
<line x1="69.40" y1="390.82" x2="79.90" y2="390.82" stroke="#262626" stroke-width="1.45"/>
<path d="M68.40,389.27 L69.30,389.27 L70.70,390.10 L70.70,391.54 L69.30,392.37 L68.40,392.37 Z" fill="#262626"/>
<path d="M80.90,389.27 L80.00,389.27 L78.60,390.10 L78.60,391.54 L80.00,392.37 L80.90,392.37 Z" fill="#262626"/>
<rect x="72.77" y="388.12" width="5.85" height="5.40" fill="#fff" stroke="#1a1a1a" stroke-width="1.35"/>
<line x1="75.90" y1="399.61" x2="93.10" y2="399.61" stroke="#262626" stroke-width="1.45"/>
<path d="M74.90,398.06 L75.80,398.06 L77.20,398.89 L77.20,400.33 L75.80,401.16 L74.90,401.16 Z" fill="#262626"/>
<path d="M94.10,398.06 L93.20,398.06 L91.80,398.89 L91.80,400.33 L93.20,401.16 L94.10,401.16 Z" fill="#262626"/>
<rect x="77.58" y="396.91" width="3.85" height="5.40" fill="#fff" stroke="#1a1a1a" stroke-width="1.35"/>
<line x1="78.50" y1="396.91" x2="78.50" y2="402.31" stroke="#1a1a1a" stroke-width="1.2"/>
<line x1="27.80" y1="408.40" x2="74.00" y2="408.40" stroke="#262626" stroke-width="1.45"/>
<path d="M26.80,406.85 L27.70,406.85 L29.10,407.68 L29.10,409.12 L27.70,409.95 L26.80,409.95 Z" fill="#262626"/>
<path d="M75.00,406.85 L74.10,406.85 L72.70,407.68 L72.70,409.12 L74.10,409.95 L75.00,409.95 Z" fill="#262626"/>
<rect x="37.57" y="405.70" width="15.55" height="5.40" fill="#fff" stroke="#1a1a1a" stroke-width="1.35"/>
<line x1="46.00" y1="405.70" x2="46.00" y2="411.10" stroke="#1a1a1a" stroke-width="1.2"/>
<line x1="100.95" y1="226.80" x2="100.95" y2="413.10" stroke="#555" stroke-width="1.3"/>
<line x1="184.00" y1="226.80" x2="184.00" y2="413.10" stroke="#555" stroke-width="1.3"/>
<line x1="267.05" y1="226.80" x2="267.05" y2="413.10" stroke="#555" stroke-width="1.3"/>
<rect x="17.90" y="226.80" width="332.20" height="186.30" fill="none" stroke="#4a4a4a" stroke-width="1.4"/>
<line x1="14.70" y1="232.60" x2="17.90" y2="232.60" stroke="#4a4a4a" stroke-width="1.1"/>
<line x1="347.10" y1="232.60" x2="350.10" y2="232.60" stroke="#4a4a4a" stroke-width="1.1"/>
<text x="13.4" y="235" text-anchor="end" font-size="7.6" class="t">1</text>
<rect x="9.17" y="234.08" width="1.71" height="1.52" fill="#fff"/>
<rect x="11.96" y="234.08" width="1.44" height="1.52" fill="#fff"/>
<line x1="14.70" y1="241.39" x2="17.90" y2="241.39" stroke="#4a4a4a" stroke-width="1.1"/>
<line x1="347.10" y1="241.39" x2="350.10" y2="241.39" stroke="#4a4a4a" stroke-width="1.1"/>
<text x="13.4" y="244" text-anchor="end" font-size="7.6" class="t">2</text>
<line x1="14.70" y1="250.18" x2="17.90" y2="250.18" stroke="#4a4a4a" stroke-width="1.1"/>
<line x1="347.10" y1="250.18" x2="350.10" y2="250.18" stroke="#4a4a4a" stroke-width="1.1"/>
<text x="13.4" y="253" text-anchor="end" font-size="7.6" class="t">3</text>
<line x1="14.70" y1="258.97" x2="17.90" y2="258.97" stroke="#4a4a4a" stroke-width="1.1"/>
<line x1="347.10" y1="258.97" x2="350.10" y2="258.97" stroke="#4a4a4a" stroke-width="1.1"/>
<text x="13.4" y="262" text-anchor="end" font-size="7.6" class="t">4</text>
<line x1="14.70" y1="267.76" x2="17.90" y2="267.76" stroke="#4a4a4a" stroke-width="1.1"/>
<line x1="347.10" y1="267.76" x2="350.10" y2="267.76" stroke="#4a4a4a" stroke-width="1.1"/>
<text x="13.4" y="271" text-anchor="end" font-size="7.6" class="t">5</text>
<line x1="14.70" y1="276.55" x2="17.90" y2="276.55" stroke="#4a4a4a" stroke-width="1.1"/>
<line x1="347.10" y1="276.55" x2="350.10" y2="276.55" stroke="#4a4a4a" stroke-width="1.1"/>
<text x="13.4" y="279" text-anchor="end" font-size="7.6" class="t">6</text>
<line x1="14.70" y1="285.34" x2="17.90" y2="285.34" stroke="#4a4a4a" stroke-width="1.1"/>
<line x1="347.10" y1="285.34" x2="350.10" y2="285.34" stroke="#4a4a4a" stroke-width="1.1"/>
<text x="13.4" y="288" text-anchor="end" font-size="7.6" class="t">7</text>
<line x1="14.70" y1="294.13" x2="17.90" y2="294.13" stroke="#4a4a4a" stroke-width="1.1"/>
<line x1="347.10" y1="294.13" x2="350.10" y2="294.13" stroke="#4a4a4a" stroke-width="1.1"/>
<text x="13.4" y="297" text-anchor="end" font-size="7.6" class="t">8</text>
<line x1="14.70" y1="302.92" x2="17.90" y2="302.92" stroke="#4a4a4a" stroke-width="1.1"/>
<line x1="347.10" y1="302.92" x2="350.10" y2="302.92" stroke="#4a4a4a" stroke-width="1.1"/>
<text x="13.4" y="306" text-anchor="end" font-size="7.6" class="t">9</text>
<line x1="14.70" y1="311.71" x2="17.90" y2="311.71" stroke="#4a4a4a" stroke-width="1.1"/>
<line x1="347.10" y1="311.71" x2="350.10" y2="311.71" stroke="#4a4a4a" stroke-width="1.1"/>
<text x="13.4" y="314" text-anchor="end" font-size="7.6" class="t">10a</text>
<rect x="0.72" y="313.08" width="1.71" height="1.52" fill="#fff"/>
<rect x="3.50" y="313.08" width="1.44" height="1.52" fill="#fff"/>
<line x1="14.70" y1="320.50" x2="17.90" y2="320.50" stroke="#4a4a4a" stroke-width="1.1"/>
<line x1="347.10" y1="320.50" x2="350.10" y2="320.50" stroke="#4a4a4a" stroke-width="1.1"/>
<text x="13.4" y="323" text-anchor="end" font-size="7.6" class="t">10b</text>
<rect x="0.72" y="322.08" width="1.71" height="1.52" fill="#fff"/>
<rect x="3.50" y="322.08" width="1.44" height="1.52" fill="#fff"/>
<line x1="14.70" y1="329.29" x2="17.90" y2="329.29" stroke="#4a4a4a" stroke-width="1.1"/>
<line x1="347.10" y1="329.29" x2="350.10" y2="329.29" stroke="#4a4a4a" stroke-width="1.1"/>
<text x="13.4" y="332" text-anchor="end" font-size="7.6" class="t">11</text>
<rect x="4.95" y="331.08" width="1.71" height="1.52" fill="#fff"/>
<rect x="7.73" y="331.08" width="1.44" height="1.52" fill="#fff"/>
<rect x="9.17" y="331.08" width="1.71" height="1.52" fill="#fff"/>
<rect x="11.96" y="331.08" width="1.44" height="1.52" fill="#fff"/>
<line x1="14.70" y1="338.08" x2="17.90" y2="338.08" stroke="#4a4a4a" stroke-width="1.1"/>
<line x1="347.10" y1="338.08" x2="350.10" y2="338.08" stroke="#4a4a4a" stroke-width="1.1"/>
<text x="13.4" y="341" text-anchor="end" font-size="7.6" class="t">12</text>
<rect x="4.95" y="340.08" width="1.71" height="1.52" fill="#fff"/>
<rect x="7.73" y="340.08" width="1.44" height="1.52" fill="#fff"/>
<line x1="14.70" y1="346.87" x2="17.90" y2="346.87" stroke="#4a4a4a" stroke-width="1.1"/>
<line x1="347.10" y1="346.87" x2="350.10" y2="346.87" stroke="#4a4a4a" stroke-width="1.1"/>
<text x="13.4" y="350" text-anchor="end" font-size="7.6" class="t">13</text>
<rect x="4.95" y="349.08" width="1.71" height="1.52" fill="#fff"/>
<rect x="7.73" y="349.08" width="1.44" height="1.52" fill="#fff"/>
<line x1="14.70" y1="355.66" x2="17.90" y2="355.66" stroke="#4a4a4a" stroke-width="1.1"/>
<line x1="347.10" y1="355.66" x2="350.10" y2="355.66" stroke="#4a4a4a" stroke-width="1.1"/>
<text x="13.4" y="358" text-anchor="end" font-size="7.6" class="t">14</text>
<rect x="4.95" y="357.08" width="1.71" height="1.52" fill="#fff"/>
<rect x="7.73" y="357.08" width="1.44" height="1.52" fill="#fff"/>
<line x1="14.70" y1="364.45" x2="17.90" y2="364.45" stroke="#4a4a4a" stroke-width="1.1"/>
<line x1="347.10" y1="364.45" x2="350.10" y2="364.45" stroke="#4a4a4a" stroke-width="1.1"/>
<text x="13.4" y="367" text-anchor="end" font-size="7.6" class="t">15</text>
<rect x="4.95" y="366.08" width="1.71" height="1.52" fill="#fff"/>
<rect x="7.73" y="366.08" width="1.44" height="1.52" fill="#fff"/>
<line x1="14.70" y1="373.24" x2="17.90" y2="373.24" stroke="#4a4a4a" stroke-width="1.1"/>
<line x1="347.10" y1="373.24" x2="350.10" y2="373.24" stroke="#4a4a4a" stroke-width="1.1"/>
<text x="13.4" y="376" text-anchor="end" font-size="7.6" class="t">16</text>
<rect x="4.95" y="375.08" width="1.71" height="1.52" fill="#fff"/>
<rect x="7.73" y="375.08" width="1.44" height="1.52" fill="#fff"/>
<line x1="14.70" y1="382.03" x2="17.90" y2="382.03" stroke="#4a4a4a" stroke-width="1.1"/>
<line x1="347.10" y1="382.03" x2="350.10" y2="382.03" stroke="#4a4a4a" stroke-width="1.1"/>
<text x="13.4" y="385" text-anchor="end" font-size="7.6" class="t">17</text>
<rect x="4.95" y="384.08" width="1.71" height="1.52" fill="#fff"/>
<rect x="7.73" y="384.08" width="1.44" height="1.52" fill="#fff"/>
<line x1="14.70" y1="390.82" x2="17.90" y2="390.82" stroke="#4a4a4a" stroke-width="1.1"/>
<line x1="347.10" y1="390.82" x2="350.10" y2="390.82" stroke="#4a4a4a" stroke-width="1.1"/>
<text x="13.4" y="394" text-anchor="end" font-size="7.6" class="t">18</text>
<rect x="4.95" y="393.08" width="1.71" height="1.52" fill="#fff"/>
<rect x="7.73" y="393.08" width="1.44" height="1.52" fill="#fff"/>
<line x1="14.70" y1="399.61" x2="17.90" y2="399.61" stroke="#4a4a4a" stroke-width="1.1"/>
<line x1="347.10" y1="399.61" x2="350.10" y2="399.61" stroke="#4a4a4a" stroke-width="1.1"/>
<text x="13.4" y="402" text-anchor="end" font-size="7.6" class="t">19</text>
<rect x="4.95" y="401.08" width="1.71" height="1.52" fill="#fff"/>
<rect x="7.73" y="401.08" width="1.44" height="1.52" fill="#fff"/>
<line x1="14.70" y1="408.40" x2="17.90" y2="408.40" stroke="#4a4a4a" stroke-width="1.1"/>
<line x1="347.10" y1="408.40" x2="350.10" y2="408.40" stroke="#4a4a4a" stroke-width="1.1"/>
<text x="13.4" y="411" text-anchor="end" font-size="7.6" class="t">20</text>
<line x1="17.90" y1="413.10" x2="17.90" y2="416.30" stroke="#4a4a4a" stroke-width="1.3"/>
<line x1="34.51" y1="413.10" x2="34.51" y2="414.90" stroke="#4a4a4a" stroke-width="1"/>
<line x1="34.51" y1="226.80" x2="34.51" y2="228.20" stroke="#4a4a4a" stroke-width="1"/>
<line x1="51.12" y1="413.10" x2="51.12" y2="414.90" stroke="#4a4a4a" stroke-width="1"/>
<line x1="51.12" y1="226.80" x2="51.12" y2="228.20" stroke="#4a4a4a" stroke-width="1"/>
<line x1="67.73" y1="413.10" x2="67.73" y2="414.90" stroke="#4a4a4a" stroke-width="1"/>
<line x1="67.73" y1="226.80" x2="67.73" y2="228.20" stroke="#4a4a4a" stroke-width="1"/>
<line x1="84.34" y1="413.10" x2="84.34" y2="414.90" stroke="#4a4a4a" stroke-width="1"/>
<line x1="84.34" y1="226.80" x2="84.34" y2="228.20" stroke="#4a4a4a" stroke-width="1"/>
<line x1="100.95" y1="413.10" x2="100.95" y2="416.30" stroke="#4a4a4a" stroke-width="1.3"/>
<line x1="117.56" y1="413.10" x2="117.56" y2="414.90" stroke="#4a4a4a" stroke-width="1"/>
<line x1="117.56" y1="226.80" x2="117.56" y2="228.20" stroke="#4a4a4a" stroke-width="1"/>
<line x1="134.17" y1="413.10" x2="134.17" y2="414.90" stroke="#4a4a4a" stroke-width="1"/>
<line x1="134.17" y1="226.80" x2="134.17" y2="228.20" stroke="#4a4a4a" stroke-width="1"/>
<line x1="150.78" y1="413.10" x2="150.78" y2="414.90" stroke="#4a4a4a" stroke-width="1"/>
<line x1="150.78" y1="226.80" x2="150.78" y2="228.20" stroke="#4a4a4a" stroke-width="1"/>
<line x1="167.39" y1="413.10" x2="167.39" y2="414.90" stroke="#4a4a4a" stroke-width="1"/>
<line x1="167.39" y1="226.80" x2="167.39" y2="228.20" stroke="#4a4a4a" stroke-width="1"/>
<line x1="184.00" y1="413.10" x2="184.00" y2="416.30" stroke="#4a4a4a" stroke-width="1.3"/>
<line x1="200.61" y1="413.10" x2="200.61" y2="414.90" stroke="#4a4a4a" stroke-width="1"/>
<line x1="200.61" y1="226.80" x2="200.61" y2="228.20" stroke="#4a4a4a" stroke-width="1"/>
<line x1="217.22" y1="413.10" x2="217.22" y2="414.90" stroke="#4a4a4a" stroke-width="1"/>
<line x1="217.22" y1="226.80" x2="217.22" y2="228.20" stroke="#4a4a4a" stroke-width="1"/>
<line x1="233.83" y1="413.10" x2="233.83" y2="414.90" stroke="#4a4a4a" stroke-width="1"/>
<line x1="233.83" y1="226.80" x2="233.83" y2="228.20" stroke="#4a4a4a" stroke-width="1"/>
<line x1="250.44" y1="413.10" x2="250.44" y2="414.90" stroke="#4a4a4a" stroke-width="1"/>
<line x1="250.44" y1="226.80" x2="250.44" y2="228.20" stroke="#4a4a4a" stroke-width="1"/>
<line x1="267.05" y1="413.10" x2="267.05" y2="416.30" stroke="#4a4a4a" stroke-width="1.3"/>
<line x1="283.66" y1="413.10" x2="283.66" y2="414.90" stroke="#4a4a4a" stroke-width="1"/>
<line x1="283.66" y1="226.80" x2="283.66" y2="228.20" stroke="#4a4a4a" stroke-width="1"/>
<line x1="300.27" y1="413.10" x2="300.27" y2="414.90" stroke="#4a4a4a" stroke-width="1"/>
<line x1="300.27" y1="226.80" x2="300.27" y2="228.20" stroke="#4a4a4a" stroke-width="1"/>
<line x1="316.88" y1="413.10" x2="316.88" y2="414.90" stroke="#4a4a4a" stroke-width="1"/>
<line x1="316.88" y1="226.80" x2="316.88" y2="228.20" stroke="#4a4a4a" stroke-width="1"/>
<line x1="333.49" y1="413.10" x2="333.49" y2="414.90" stroke="#4a4a4a" stroke-width="1"/>
<line x1="333.49" y1="226.80" x2="333.49" y2="228.20" stroke="#4a4a4a" stroke-width="1"/>
<line x1="350.10" y1="413.10" x2="350.10" y2="416.30" stroke="#4a4a4a" stroke-width="1.3"/>
<text x="17.90" y="428.70" text-anchor="middle" font-size="10.5" class="t">0</text>
<text x="100.95" y="428.70" text-anchor="middle" font-size="10.5" class="t">5</text>
<text x="184.00" y="428.70" text-anchor="middle" font-size="10.5" class="t">10</text>
<rect x="178.16" y="427.57" width="2.44" height="1.73" fill="#fff"/>
<rect x="181.93" y="427.57" width="2.07" height="1.73" fill="#fff"/>
<text x="267.05" y="428.70" text-anchor="middle" font-size="10.5" class="t">15</text>
<rect x="261.21" y="427.57" width="2.44" height="1.73" fill="#fff"/>
<rect x="264.98" y="427.57" width="2.07" height="1.73" fill="#fff"/>
<text x="350.10" y="428.70" text-anchor="middle" font-size="10.5" class="t">20</text>
<text x="353.0" y="224.1" text-anchor="end" font-size="8.6" font-weight="bold" fill="#1a1a1a">b. Estimates using max ERs</text>
<text x="41.3" y="444.8" font-size="9.5" letter-spacing="0.38" class="t">Estimate of <tspan x="96.0" letter-spacing="0.46">Additional </tspan><tspan x="145.0">Annual </tspan><tspan x="179.6" letter-spacing="0.16">Individual </tspan><tspan x="225.4">External </tspan><tspan x="265.8">Dose</tspan></text>
<rect x="290.9" y="437.9" width="1.7" height="6.2" fill="none" stroke="#222" stroke-width="0.9"/>
<text transform="translate(300.4,444.8) scale(0.82,1)" font-size="9.5" class="t"><tspan x="0.00">[</tspan><tspan x="4.63">m</tspan><tspan x="13.54">S</tspan><tspan x="19.57">v</tspan><tspan x="28.54">]</tspan></text>
</svg>
</body></html>
